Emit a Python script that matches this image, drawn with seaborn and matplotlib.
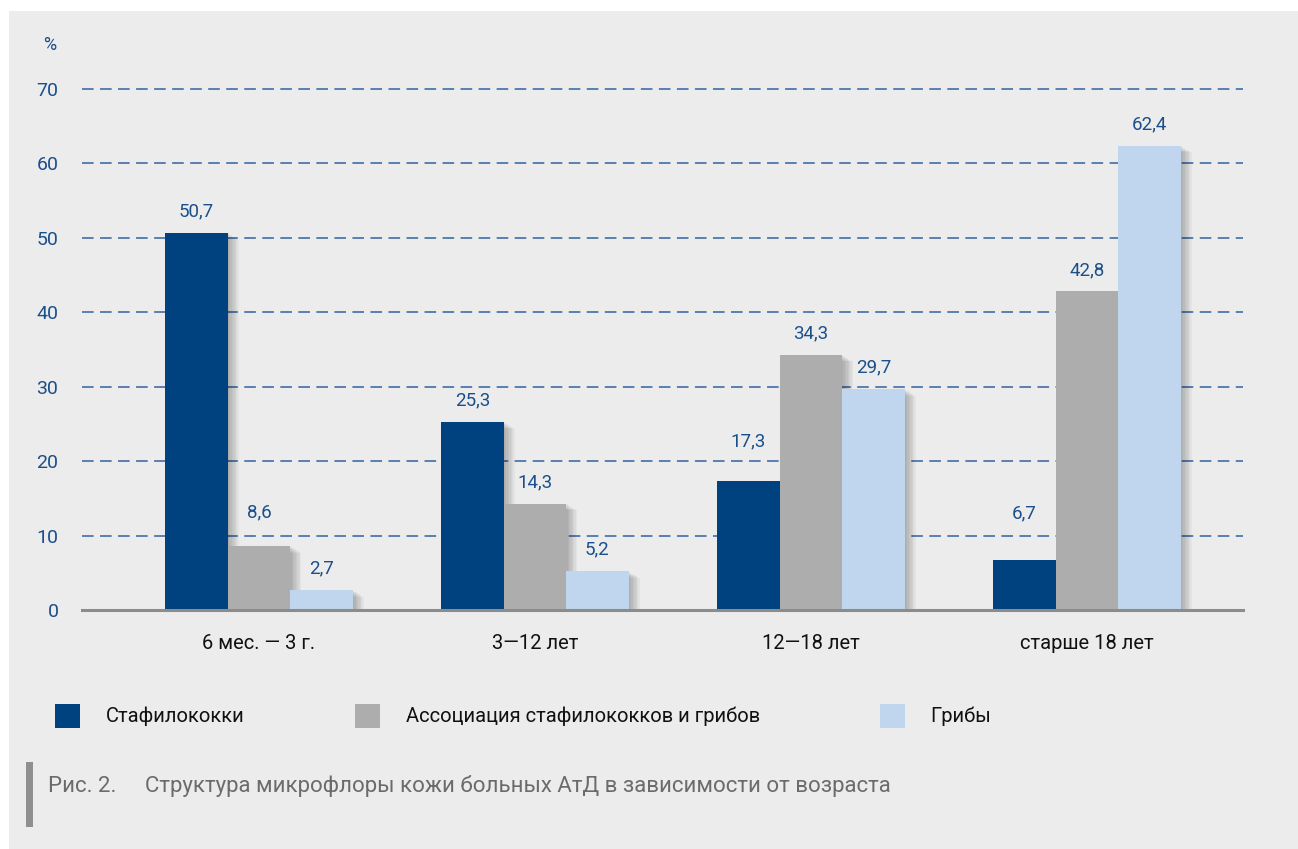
import matplotlib
matplotlib.use("Agg")
import matplotlib.pyplot as plt
import matplotlib.patheffects as pe
from matplotlib.patches import Rectangle
import seaborn as sns
import pandas as pd

categories = ["6 мес. — 3 г.", "3—12 лет", "12—18 лет", "старше 18 лет"]
series_names = ["Стафилококки", "Ассоциация стафилококков и грибов", "Грибы"]
staph = [50.7, 25.3, 17.3, 6.7]
assoc = [8.6, 14.3, 34.3, 42.8]
fungi = [2.7, 5.2, 29.7, 62.4]
yticks = [0, 10, 20, 30, 40, 50, 60, 70]
caption_num = "Рис. 2."
caption_text = "Структура микрофлоры кожи больных АтД в зависимости от возраста"

colors = ["#00427F", "#ADADAD", "#C0D6EF"]
BG = "#ECECEC"
BLUE_TXT = "#1B4F8B"
# extra lift (points) of a few value labels, keyed (series index, category index)
label_lift = {(1, 0): 9, (0, 2): 13, (0, 3): 18}

sns.set_theme(style="white")
plt.rcParams["font.family"] = ["Roboto", "DejaVu Sans"]

rows = []
for name, vals in zip(series_names, [staph, assoc, fungi]):
    for c, v in zip(categories, vals):
        rows.append({"cat": c, "series": name, "value": v})
df = pd.DataFrame(rows)

W, H = 1298, 849
fig = plt.figure(figsize=(W / 100, H / 100), dpi=100, facecolor="white")
fig.add_artist(Rectangle((9 / W, 0), 1 - 9 / W, 1 - 11 / H, transform=fig.transFigure,
                         facecolor=BG, edgecolor="none", zorder=-10))

left, right = 82 / W, 1243 / W
y0_px, y70_px = 610, 89
ppu = (y0_px - y70_px) / 70.0
ytop = 71
top_px = y0_px - ytop * ppu
ax = fig.add_axes([left, 1 - y0_px / H, right - left, (y0_px - top_px) / H])
ax.set_facecolor("none")

sns.barplot(data=df, x="cat", y="value", hue="series", order=categories,
            hue_order=series_names, palette=colors, width=0.68, gap=0,
            saturation=1, legend=False, ax=ax, zorder=3, edgecolor="none",
            linewidth=0)

shadow = [pe.SimplePatchShadow(offset=(o, -0.6 * o), shadow_rgbFace="black", alpha=0.035)
          for o in (1, 2, 3, 4, 5, 6, 7, 8)] + [pe.Normal()]
for p in ax.patches:
    p.set_path_effects(shadow)

for si, cont in enumerate(ax.containers):
    for ci, (bar, v) in enumerate(zip(cont, cont.datavalues)):
        lift = label_lift.get((si, ci), 0)
        ax.annotate(f"{v:.1f}".replace(".", ","),
                    (bar.get_x() + bar.get_width() / 2, bar.get_height()),
                    xytext=(0, 9 + lift), textcoords="offset points",
                    ha="center", va="bottom", color=BLUE_TXT, fontsize=13.5, zorder=5)

ax.set_xlim(-0.641, 3.566)
ax.set_ylim(0, ytop)
ax.set_yticks(yticks)
ax.set_yticklabels([str(t) for t in yticks])
for t in yticks[1:]:
    ax.axhline(t, color="#2F62A0", lw=1.1, linestyle=(0, (7.6, 4.2)), zorder=1)

for s in ["top", "right", "left"]:
    ax.spines[s].set_visible(False)
ax.spines["bottom"].set_color("#8C8C8C")
ax.spines["bottom"].set_linewidth(2.2)
ax.spines["bottom"].set_zorder(4)

ax.tick_params(axis="y", length=0, pad=17, labelcolor=BLUE_TXT, labelsize=14)
ax.tick_params(axis="x", which="major", length=0, pad=17, labelcolor="#111111", labelsize=14.5)
ax.set_xticks([0.4, 1.4, 2.4], minor=True)
ax.tick_params(axis="x", which="minor", length=7, width=1.5, color="#8C8C8C", direction="out")
ax.set_xlabel("")
ax.set_ylabel("")

fig.text(50 / W, 1 - 45 / H, "%", color=BLUE_TXT, fontsize=13, ha="center", va="center")

# legend
leg_x = [55, 355, 880]
txt_x = [106, 406, 930]
for name, col, lx, tx in zip(series_names, colors, leg_x, txt_x):
    fig.add_artist(Rectangle((lx / W, 1 - 728 / H), 25 / W, 24 / H, transform=fig.transFigure,
                             facecolor=col, edgecolor="none"))
    fig.text(tx / W, 1 - 716 / H, name, color="#111111", fontsize=14.5, ha="left", va="center")

# caption
fig.add_artist(Rectangle((26 / W, 1 - 827 / H), 7 / W, 65 / H, transform=fig.transFigure,
                         facecolor="#8F8F8F", edgecolor="none"))
fig.text(48 / W, 1 - 786 / H, caption_num, color="#6B6B6B", fontsize=16, ha="left", va="center")
fig.text(145 / W, 1 - 786 / H, caption_text, color="#6B6B6B", fontsize=16, ha="left", va="center")

fig.savefig("out.png", dpi=100, facecolor=fig.get_facecolor())
